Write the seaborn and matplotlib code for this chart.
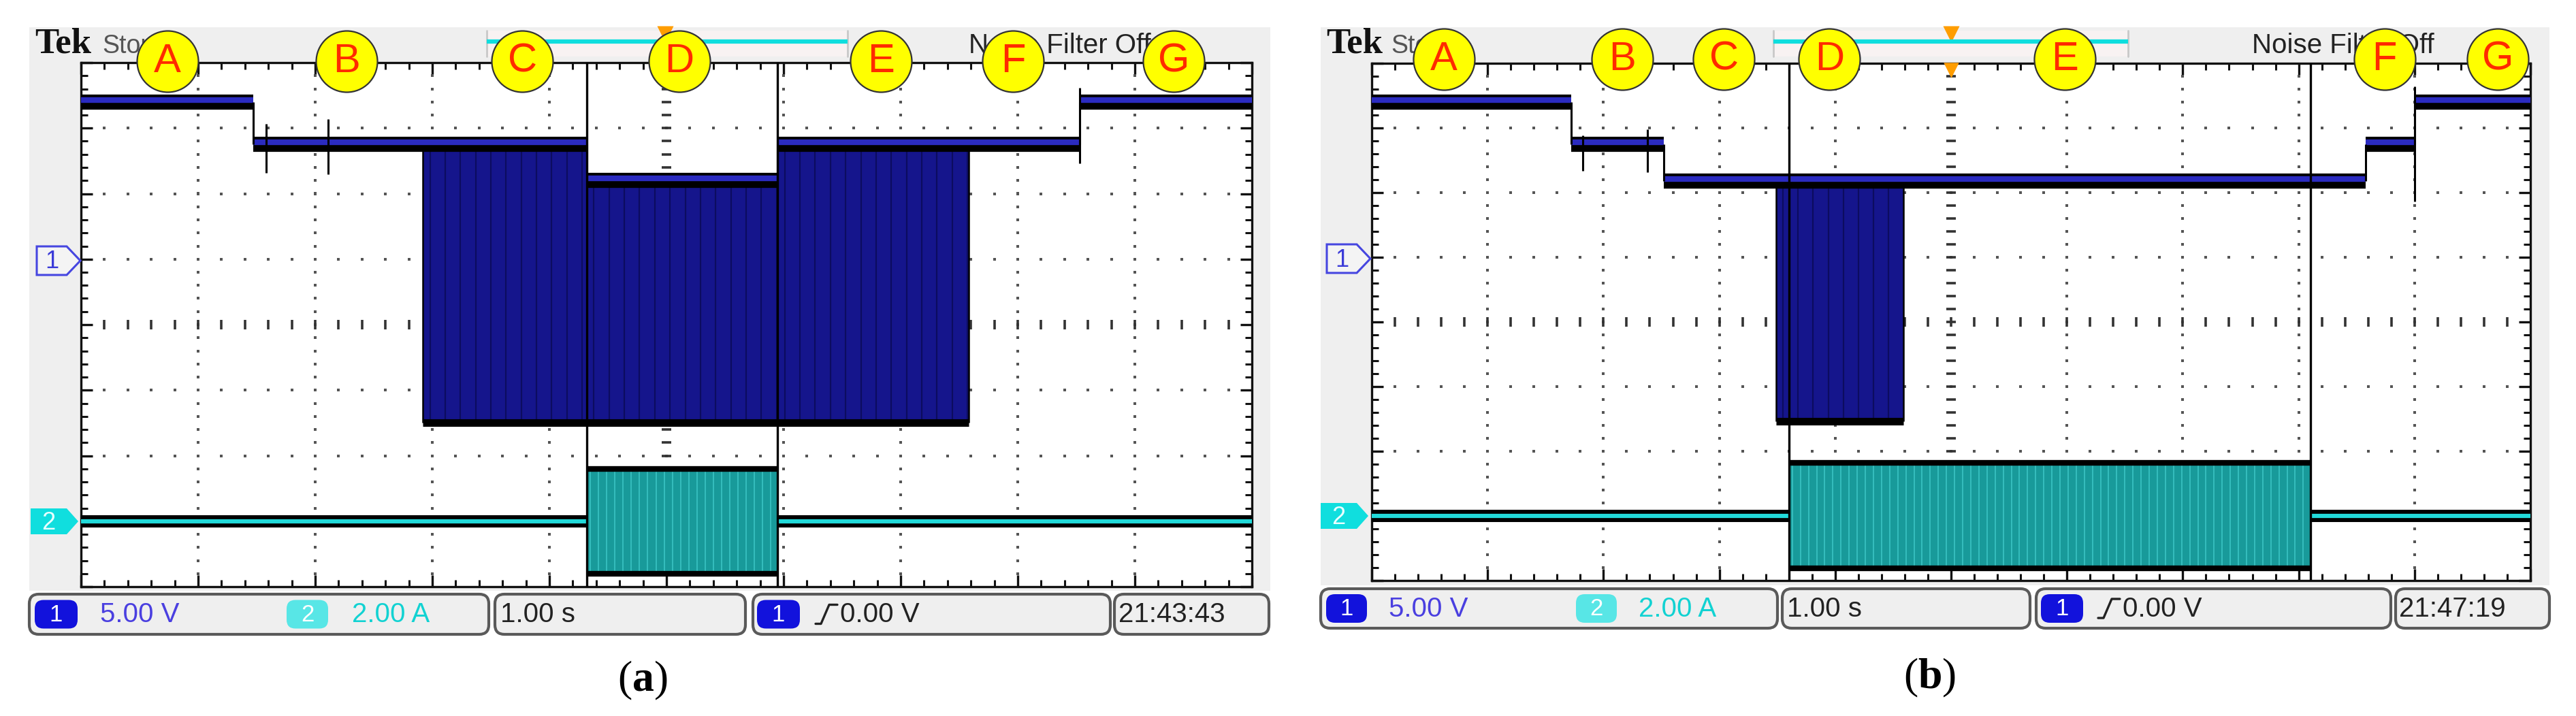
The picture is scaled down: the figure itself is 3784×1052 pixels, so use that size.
import numpy as np
import matplotlib
matplotlib.use("Agg")
import matplotlib.pyplot as plt
import seaborn as sns
from matplotlib import font_manager
from matplotlib.patches import FancyBboxPatch, Polygon, Rectangle

sns.set_theme(style="white")
names = {f.name for f in font_manager.fontManager.ttflist}
NARROW = "Liberation Sans Narrow" if "Liberation Sans Narrow" in names else "Liberation Sans"
plt.rcParams["font.family"] = ["Liberation Sans", "DejaVu Sans"]
plt.rcParams["mathtext.fontset"] = "custom"
plt.rcParams["mathtext.rm"] = "Liberation Serif"
plt.rcParams["mathtext.bf"] = "Liberation Serif:bold"

W, H, DPI = 3784, 1052, 100

# scope settings, same for both captures
volts_per_div = 5.0
amps_per_div = 2.0
ch1_ground = 5.0      # divisions above graticule bottom
ch2_ground = 1.0

# ---------- capture (a) ----------
a_edges = [0.0, 1.47, 2.92, 4.32, 5.95, 7.58, 8.53, 10.0]   # s
a_level = [12.0, 8.75, 8.75, 6.0, 8.75, 8.75, 12.0]          # V
a_pwm = [0, 0, 1, 1, 1, 0, 0]
a_pwm_low = -12.5
a_ch2_on = [4.32, 5.95]
a_ch2_peak = [1.6, -1.6]                                      # A
a_cursor = [4.32, 5.95]
a_spike_t = [1.58, 2.11, 8.53]
a_spike_hi = [10.3, 10.7, 13.1]
a_spike_lo = [6.6, 6.5, 7.3]
a_label_t = [0.74, 2.27, 3.77, 5.11, 6.83, 7.96, 9.33]
a_time = "21:43:43"

# ---------- capture (b) ----------
b_edges = [0.0, 1.72, 2.52, 3.49, 4.59, 8.58, 9.0, 10.0]
b_level = [12.0, 8.75, 5.9, 5.9, 5.9, 8.75, 12.0]
b_pwm = [0, 0, 0, 1, 0, 0, 0]
b_pwm_low = -12.7
b_ch2_on = [3.60, 8.10]
b_ch2_peak = [1.64, -1.62]
b_cursor = [3.60, 8.10]
b_spike_t = [1.82, 2.38, 9.0]
b_spike_hi = [9.4, 9.9, 13.2]
b_spike_lo = [6.7, 6.6, 4.3]
b_label_t = [0.62, 2.16, 3.04, 3.95, 5.98, 8.74, 9.72]
b_time = "21:47:19"

labels = ["A", "B", "C", "D", "E", "F", "G"]
ch1_scale = "5.00 V"
ch2_scale = "2.00 A"
time_scale = "1.00 s"
trig_level = "0.00 V"

NAVY = "#15158c"
TRACE = "#2b2bc0"
TEAL = "#189a9a"
CYAN = "#22dada"


def v2d(v):
    return ch1_ground + np.asarray(v) / volts_per_div


def a2d(a):
    return ch2_ground + np.asarray(a) / amps_per_div


def draw_scope(ax, edges, level, pwm, low, ch2_on, ch2_peak, cursor,
               spike_t, spike_hi, spike_lo, label_t, label_y):
    ax.set_xlim(0, 10)
    ax.set_ylim(0, 8)
    ax.set_facecolor("white")

    # graticule
    minor = np.arange(0.2, 10.0, 0.2)
    vminor = np.arange(0.2, 8.0, 0.2)
    for xv in [1, 2, 3, 4, 6, 7, 8, 9]:
        ax.scatter(np.full(len(vminor), xv), vminor, s=7, marker="s", c="#555", lw=0, zorder=1)
    for yv in [1, 2, 3, 5, 6, 7]:
        ax.scatter(minor, np.full(len(minor), yv), s=7, marker="s", c="#555", lw=0, zorder=1)
    ax.scatter(np.full(len(vminor), 5), vminor, s=110, marker="_", c="#333", lw=2.6, zorder=1)
    ax.scatter(minor, np.full(len(minor), 4), s=90, marker="|", c="#333", lw=2.6, zorder=1)

    ax.set_xticks(np.arange(0, 11, 1))
    ax.set_xticks(np.arange(0, 10.01, 0.2), minor=True)
    ax.set_yticks(np.arange(0, 9, 1))
    ax.set_yticks(np.arange(0, 8.01, 0.2), minor=True)
    ax.tick_params(which="both", direction="in", top=True, right=True, bottom=True,
                   left=True, labelbottom=False, labelleft=False, color="#111")
    ax.tick_params(which="major", length=12, width=2.4)
    ax.tick_params(which="minor", length=7, width=2.2)
    for s in ax.spines.values():
        s.set_visible(True)
        s.set_linewidth(2.4)
        s.set_color("#111")

    # channel 1
    lv = v2d(level)
    lo = float(v2d(low))
    for i in range(len(level)):
        t0, t1 = edges[i], edges[i + 1]
        if pwm[i]:
            ax.fill_between([t0, t1], [lo, lo], [lv[i], lv[i]], color=NAVY, lw=0, zorder=2)
            ax.vlines(np.arange(t0 + 0.06, t1, 0.13), lo, lv[i], colors="#05053a",
                      lw=1.6, alpha=0.55, zorder=2.1)
            ax.hlines(lo, t0, t1, colors="black", lw=8, capstyle="butt", zorder=3)
            ax.vlines([t0, t1], lo, lv[i], colors="black", lw=1.8, zorder=3)
    ax.hlines(lv, edges[:-1], edges[1:], colors="black", lw=16, capstyle="butt", zorder=3)
    ax.hlines(lv + 0.03, edges[:-1], edges[1:], colors=TRACE, lw=6, capstyle="butt", zorder=3.1)
    for i in range(1, len(level)):
        if lv[i] != lv[i - 1]:
            ax.vlines(edges[i], min(lv[i], lv[i - 1]), max(lv[i], lv[i - 1]),
                      colors="black", lw=2.2, zorder=3.2)
    ax.vlines(spike_t, v2d(spike_lo), v2d(spike_hi), colors="black", lw=2.2, zorder=3.2)

    # channel 2
    base = float(a2d(0))
    hi, lo2 = a2d(ch2_peak)
    ax.hlines([base, base], [0, ch2_on[1]], [ch2_on[0], 10], colors="black", lw=13,
              capstyle="butt", zorder=3)
    ax.hlines([base, base], [0, ch2_on[1]], [ch2_on[0], 10], colors=CYAN, lw=4.5,
              capstyle="butt", zorder=3.1)
    ax.fill_between(ch2_on, [lo2, lo2], [hi, hi], color=TEAL, lw=0, zorder=2)
    ax.vlines(np.arange(ch2_on[0] + 0.03, ch2_on[1], 0.07), lo2, hi, colors="#3fcaca",
              lw=1.3, alpha=0.8, zorder=2.1)
    ax.hlines([hi, lo2], ch2_on[0], ch2_on[1], colors="black", lw=6, capstyle="butt", zorder=3)

    # cursors
    ax.vlines(cursor, 0, 8, colors="black", lw=2.4, zorder=4)

    # trigger position marker
    ax.scatter([5], [7.9], s=260, marker="v", c="#ff9d00", lw=0, zorder=5, clip_on=False)

    # section labels
    ax.scatter(label_t, np.full(len(label_t), label_y), s=4200, c="#ffff00",
               edgecolors="#333", linewidths=1.6, zorder=10, clip_on=False)
    for t, lab in zip(label_t, labels):
        ax.text(t, label_y, lab, ha="center", va="center", fontsize=43,
                color="#ff2a00", zorder=11, clip_on=False)


fig = plt.figure(figsize=(W / DPI, H / DPI), dpi=DPI)
fig.patch.set_facecolor("white")

bg = fig.add_axes([0, 0, 1, 1], zorder=0)
bg.set_xlim(0, W)
bg.set_ylim(H, 0)
bg.axis("off")

top = fig.add_axes([0, 0, 1, 1], zorder=3)
top.set_xlim(0, W)
top.set_ylim(H, 0)
top.axis("off")
top.patch.set_alpha(0)


def screen(x0, x1, y1, tek_x, stop_x, bar, trig_x, filt_x):
    bg.add_patch(Rectangle((x0, 40), x1 - x0, y1 - 40, fc="#efefef", ec="none"))
    bg.text(tek_x, 78, "Tek", family="Liberation Serif", weight="bold", fontsize=38,
            color="#111", va="baseline")
    bg.text(stop_x, 78, "Stop", family=NARROW, fontsize=27, color="#555", va="baseline")
    bg.add_patch(Rectangle((bar[0], 45), bar[1] - bar[0], 38, fc="#f8f2f2", ec="none"))
    bg.plot([bar[0], bar[0]], [45, 83], color="#c8c8c8", lw=2)
    bg.plot([bar[1], bar[1]], [45, 83], color="#c8c8c8", lw=2)
    bg.plot(bar, [61, 61], color="#10dede", lw=4.5, solid_capstyle="butt")
    bg.scatter([trig_x], [50], s=300, marker="v", c="#ff9d00", lw=0)
    bg.text(filt_x, 78, "Noise Filter Off", family=NARROW, fontsize=29, color="#222",
            va="baseline")


def ch_markers(x1, y1, x2, y2):
    # channel 1 ground marker (outline) and channel 2 marker (filled)
    top.add_patch(Polygon([[x1 - 64, y1 - 21], [x1 - 20, y1 - 21], [x1, y1],
                           [x1 - 20, y1 + 21], [x1 - 64, y1 + 21]], closed=True,
                          fc="#f4f4f4", ec="#4646e0", lw=2.2))
    top.text(x1 - 42, y1 + 2, "1", ha="center", va="center", fontsize=26, color="#3c3cd8",
             family=NARROW)
    top.add_patch(Polygon([[x2 - 70, y2 - 19], [x2 - 17, y2 - 19], [x2, y2],
                           [x2 - 17, y2 + 19], [x2 - 70, y2 + 19]], closed=True,
                          fc="#10dede", ec="none"))
    top.text(x2 - 44, y2 + 2, "2", ha="center", va="center", fontsize=26, color="#e8ffff",
             family=NARROW)


def status(y0, y1, boxes, badge1, txt1, badge2, txt2, txt_t, badge3, edge_x, txt_trig,
           txt_clock, clock):
    yc = (y0 + y1) / 2
    for bx0, bx1 in boxes:
        bg.add_patch(FancyBboxPatch((bx0, y0), bx1 - bx0, y1 - y0,
                                    boxstyle="round,pad=0,rounding_size=14",
                                    fc="#efefef", ec="#5a5a5a", lw=3))
    for (bx0, bx1), fc, num in [(badge1, "#1212dc", "1"), (badge2, "#58e6e6", "2"),
                                (badge3, "#1212dc", "1")]:
        bg.add_patch(FancyBboxPatch((bx0, yc - 21), bx1 - bx0, 42,
                                    boxstyle="round,pad=0,rounding_size=13",
                                    fc=fc, ec="none"))
        bg.text((bx0 + bx1) / 2, yc + 1, num, ha="center", va="center", fontsize=25,
                color="white", family=NARROW)
    kw = dict(va="center", fontsize=29, family=NARROW)
    bg.text(txt1, yc + 1, ch1_scale, color="#4a3fe0", **kw)
    bg.text(txt2, yc + 1, ch2_scale, color="#12d2d2", **kw)
    bg.text(txt_t, yc + 1, time_scale, color="#222", **kw)
    bg.plot([edge_x, edge_x + 8, edge_x + 20, edge_x + 32],
            [yc + 14, yc + 14, yc - 14, yc - 14], color="#222", lw=2.4)
    bg.text(txt_trig, yc + 1, trig_level, color="#222", **kw)
    bg.text(txt_clock, yc + 1, clock, color="#222", **kw)


# capture (a)
screen(43, 1866, 868, 51, 150, (715, 1245), 977, 1423)
ax_a = fig.add_axes([119 / W, 1 - 862 / H, 1720 / W, 770 / H], zorder=1)
draw_scope(ax_a, a_edges, a_level, a_pwm, a_pwm_low, a_ch2_on, a_ch2_peak, a_cursor,
           a_spike_t, a_spike_hi, a_spike_lo, a_label_t, 8.02)
ch_markers(118, 383, 115, 766)
status(873, 932, [(43, 718), (727, 1095), (1106, 1631), (1637, 1864)],
       (51, 114), 147, (421, 482), 517, 735, (1112, 1175), 1198, 1234, 1643, a_time)
bg.text(944, 1000, r"($\mathbf{a}$)", ha="center", va="center", fontsize=46,
        family="Liberation Serif", color="black")

# capture (b)
screen(1940, 3745, 860, 1948, 2043, (2605, 3126), 2866, 3308)
ax_b = fig.add_axes([2015 / W, 1 - 853 / H, 1702 / W, 760 / H], zorder=1)
draw_scope(ax_b, b_edges, b_level, b_pwm, b_pwm_low, b_ch2_on, b_ch2_peak, b_cursor,
           b_spike_t, b_spike_hi, b_spike_lo, b_label_t, 8.06)
ch_markers(2013, 380, 2010, 758)
status(865, 923, [(1940, 2611), (2618, 2982), (2991, 3512), (3519, 3745)],
       (1948, 2008), 2040, (2315, 2375), 2407, 2625, (2998, 3060), 3082, 3118, 3524, b_time)
bg.text(2835, 996, r"($\mathbf{b}$)", ha="center", va="center", fontsize=46,
        family="Liberation Serif", color="black")

fig.savefig("out.png", dpi=DPI, facecolor="white")
